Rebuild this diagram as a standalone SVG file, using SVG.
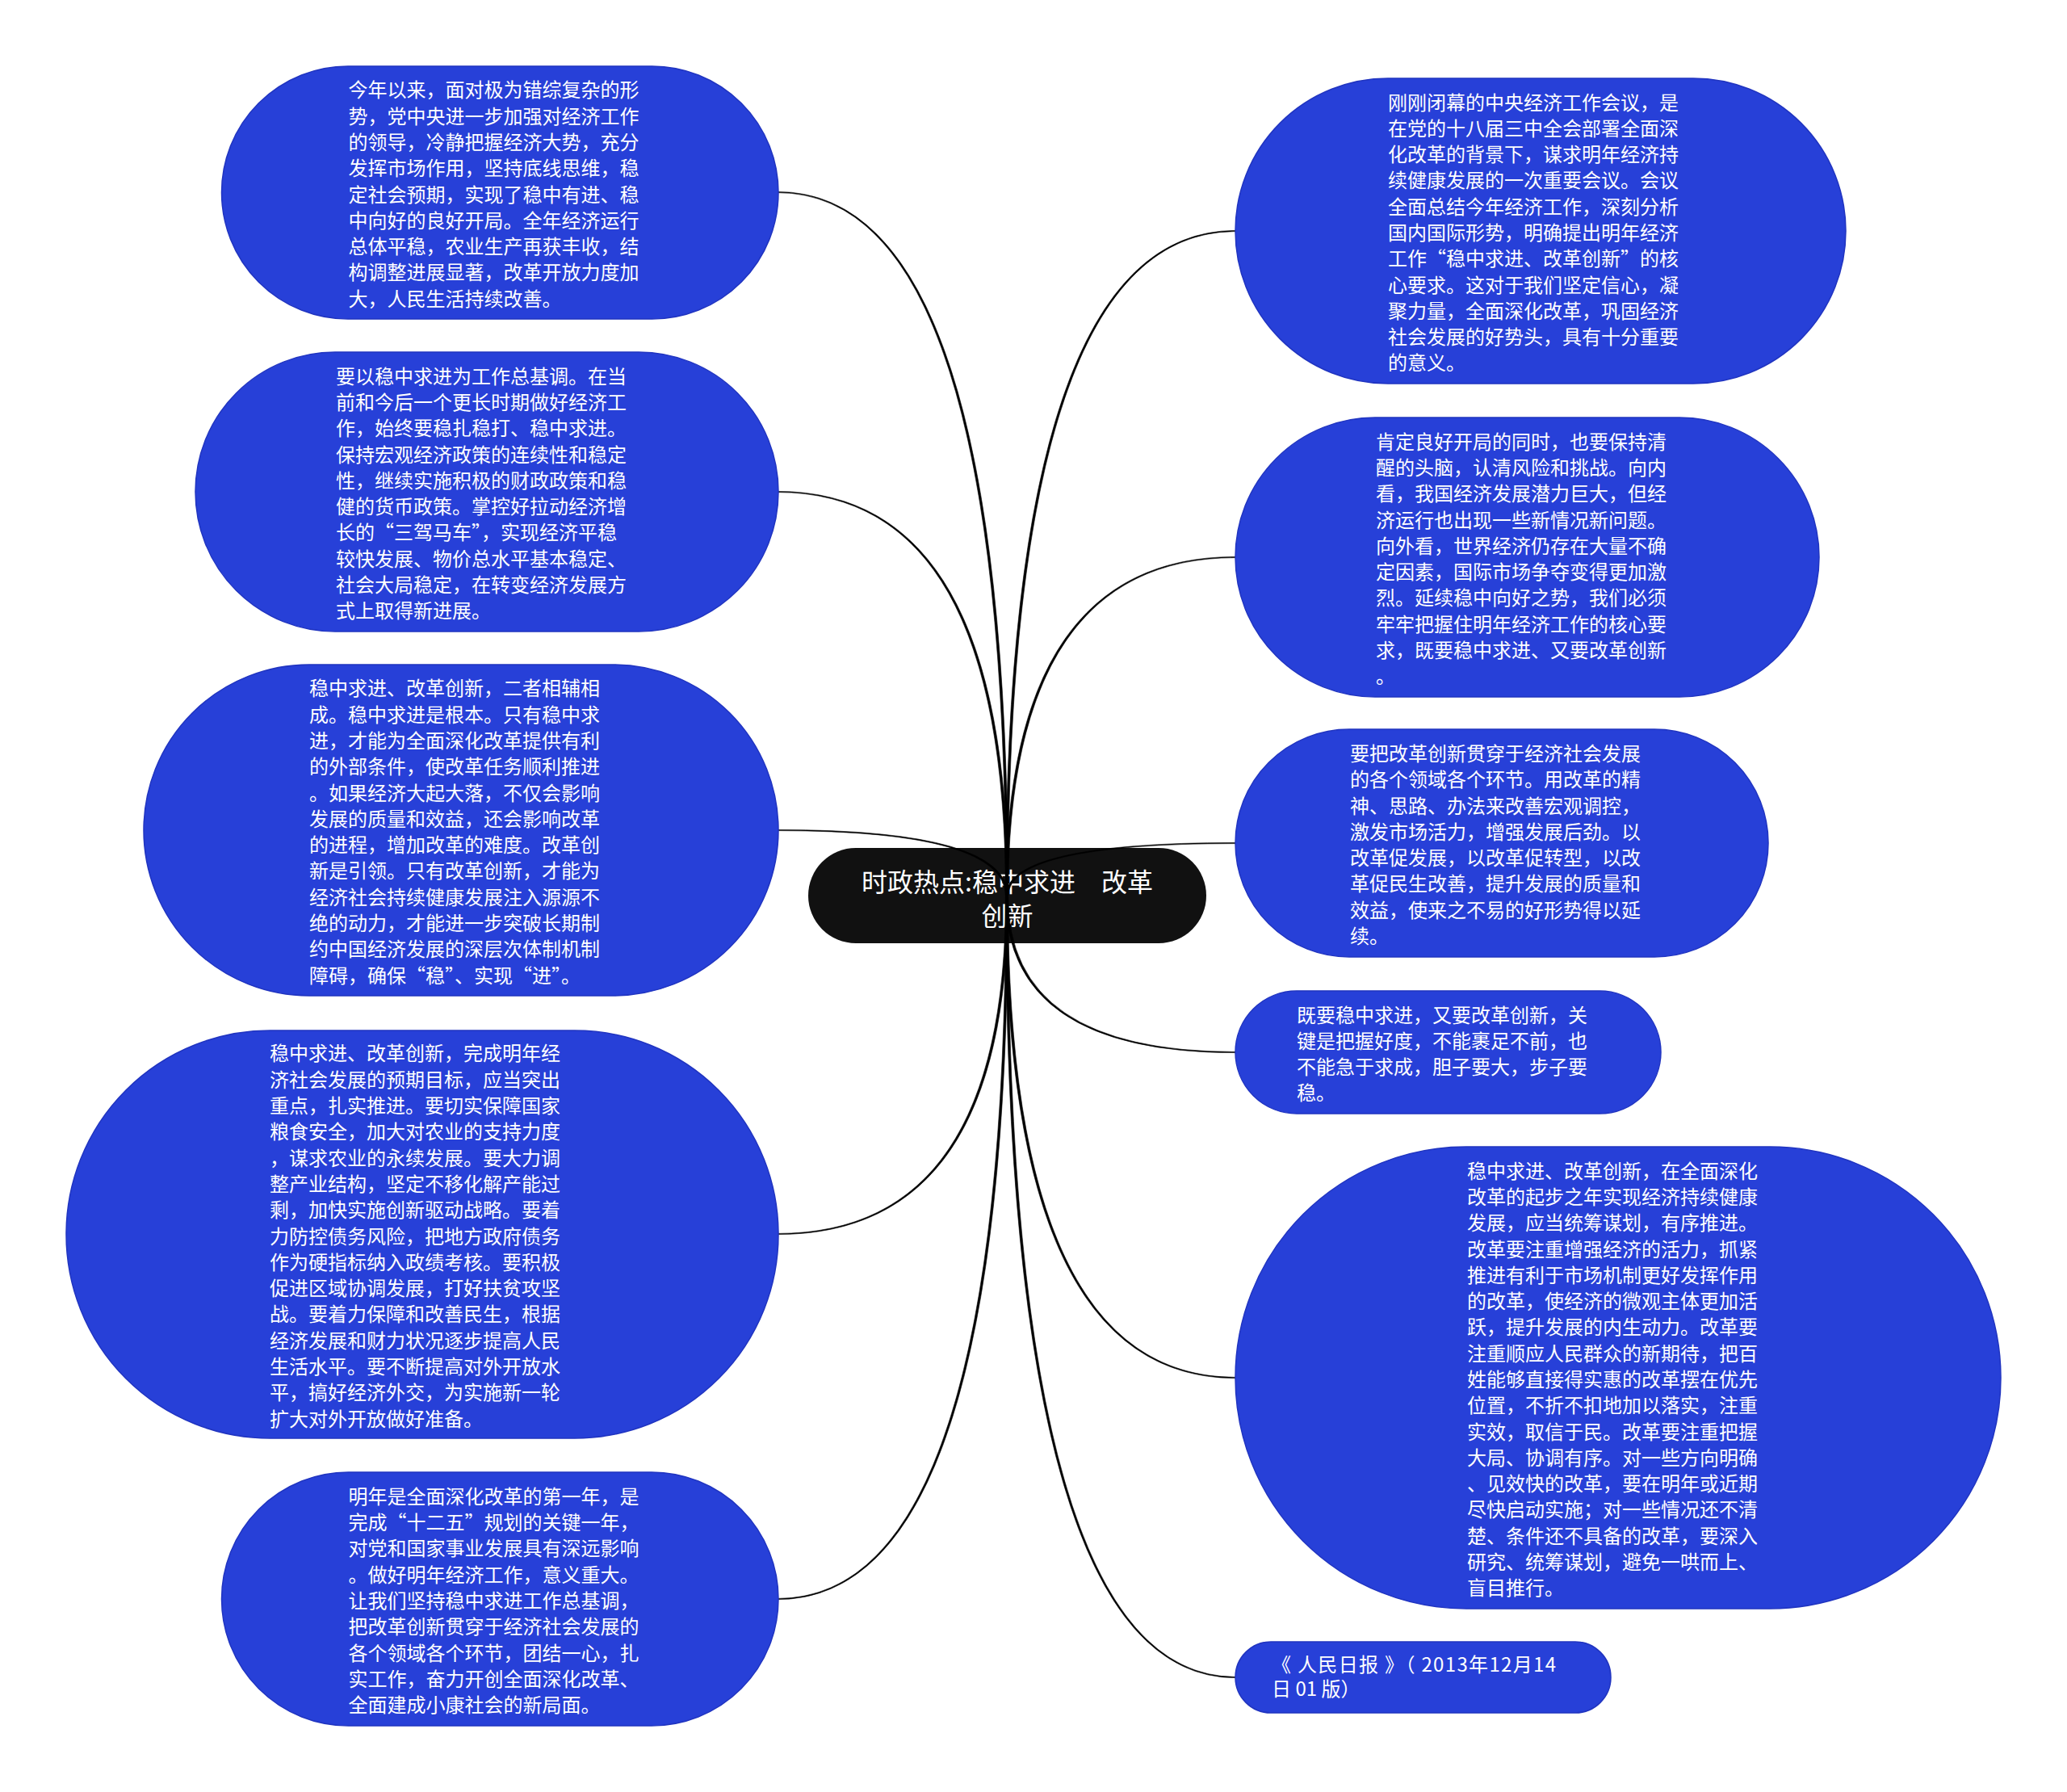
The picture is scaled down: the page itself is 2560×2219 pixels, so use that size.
<svg xmlns="http://www.w3.org/2000/svg" width="2560" height="2219" viewBox="0 0 2560 2219">
<style>
.bg{fill:#ffffff}
.node rect{fill:#2740d8;stroke:#2034c0;stroke-width:1.5}
.root rect{fill:#111111}
.t,.t tspan{font-family:"Noto Sans CJK SC","Noto Sans",sans-serif;font-size:24px;fill:#ffffff;dominant-baseline:central}
.rt,.rt tspan{font-family:"Noto Sans CJK SC","Noto Sans",sans-serif;font-size:32px;fill:#ffffff;dominant-baseline:central;text-anchor:middle}
.conn path{fill:#000000;stroke:#000000;stroke-width:0.6}
</style>
<rect class="bg" x="0" y="0" width="2560" height="2219"/>

<g id="root" class="root">
<rect x="1001" y="1050" width="493" height="118" rx="59"/>
<text class="rt"><tspan x="1247.5" y="1090">时政热点:稳中求进　改革</tspan><tspan x="1247.5" y="1132">创新</tspan></text>
</g>

<g id="connectors" class="conn">
<path d="M1248.5 1110 Q1248.5 237.4 963 237.4 L963 238.6 Q1245.5 238.6 1245.5 1110 Z"/>
<path d="M1248.5 1110 Q1248.5 608.4 963 608.4 L963 609.6 Q1245.5 609.6 1245.5 1110 Z"/>
<path d="M1248.5 1110 Q1248.5 1027.4 963 1027.4 L963 1028.6 Q1245.5 1028.6 1245.5 1110 Z"/>
<path d="M1248.5 1110 Q1248.5 1528.6 963 1528.6 L963 1527.4 Q1245.5 1527.4 1245.5 1110 Z"/>
<path d="M1248.5 1110 Q1248.5 1980.6 963 1980.6 L963 1979.4 Q1245.5 1979.4 1245.5 1110 Z"/>
<path d="M1248.5 1110 Q1248.5 286.6 1530 286.6 L1530 285.4 Q1245.5 285.4 1245.5 1110 Z"/>
<path d="M1248.5 1110 Q1248.5 690.6 1530 690.6 L1530 689.4 Q1245.5 689.4 1245.5 1110 Z"/>
<path d="M1248.5 1110 Q1248.5 1044.6 1530 1044.6 L1530 1043.4 Q1245.5 1043.4 1245.5 1110 Z"/>
<path d="M1248.5 1110 Q1248.5 1302.4 1530 1302.4 L1530 1303.6 Q1245.5 1303.6 1245.5 1110 Z"/>
<path d="M1248.5 1110 Q1248.5 1705.4 1530 1705.4 L1530 1706.6 Q1245.5 1706.6 1245.5 1110 Z"/>
<path d="M1248.5 1110 Q1248.5 2076.4 1530 2076.4 L1530 2077.6 Q1245.5 2077.6 1245.5 1110 Z"/>
</g>

<g id="n-left-1" class="node">
<rect x="274.5" y="82" width="689.5" height="313" rx="156.5"/>
<text class="t"><tspan x="431.6" y="109.3">今年以来，面对极为错综复杂的形</tspan><tspan x="431.6" dy="32.3">势，党中央进一步加强对经济工作</tspan><tspan x="431.6" dy="32.3">的领导，冷静把握经济大势，充分</tspan><tspan x="431.6" dy="32.3">发挥市场作用，坚持底线思维，稳</tspan><tspan x="431.6" dy="32.3">定社会预期，实现了稳中有进、稳</tspan><tspan x="431.6" dy="32.3">中向好的良好开局。全年经济运行</tspan><tspan x="431.6" dy="32.3">总体平稳，农业生产再获丰收，结</tspan><tspan x="431.6" dy="32.3">构调整进展显著，改革开放力度加</tspan><tspan x="431.6" dy="32.3">大，人民生活持续改善。</tspan></text>
</g>

<g id="n-left-2" class="node">
<rect x="242" y="436" width="722" height="346" rx="173"/>
<text class="t"><tspan x="416" y="463.65">要以稳中求进为工作总基调。在当</tspan><tspan x="416" dy="32.3">前和今后一个更长时期做好经济工</tspan><tspan x="416" dy="32.3">作，始终要稳扎稳打、稳中求进。</tspan><tspan x="416" dy="32.3">保持宏观经济政策的连续性和稳定</tspan><tspan x="416" dy="32.3">性，继续实施积极的财政政策和稳</tspan><tspan x="416" dy="32.3">健的货币政策。掌控好拉动经济增</tspan><tspan x="416" dy="32.3">长的“三驾马车”，实现经济平稳</tspan><tspan x="416" dy="32.3">较快发展、物价总水平基本稳定、</tspan><tspan x="416" dy="32.3">社会大局稳定，在转变经济发展方</tspan><tspan x="416" dy="32.3">式上取得新进展。</tspan></text>
</g>

<g id="n-left-3" class="node">
<rect x="178" y="823" width="786" height="410" rx="205"/>
<text class="t"><tspan x="383" y="850.35">稳中求进、改革创新，二者相辅相</tspan><tspan x="383" dy="32.3">成。稳中求进是根本。只有稳中求</tspan><tspan x="383" dy="32.3">进，才能为全面深化改革提供有利</tspan><tspan x="383" dy="32.3">的外部条件，使改革任务顺利推进</tspan><tspan x="383" dy="32.3">。如果经济大起大落，不仅会影响</tspan><tspan x="383" dy="32.3">发展的质量和效益，还会影响改革</tspan><tspan x="383" dy="32.3">的进程，增加改革的难度。改革创</tspan><tspan x="383" dy="32.3">新是引领。只有改革创新，才能为</tspan><tspan x="383" dy="32.3">经济社会持续健康发展注入源源不</tspan><tspan x="383" dy="32.3">绝的动力，才能进一步突破长期制</tspan><tspan x="383" dy="32.3">约中国经济发展的深层次体制机制</tspan><tspan x="383" dy="32.3">障碍，确保“稳”、实现“进”。</tspan></text>
</g>

<g id="n-left-4" class="node">
<rect x="82" y="1276" width="882" height="505" rx="252.5"/>
<text class="t"><tspan x="334" y="1302.4">稳中求进、改革创新，完成明年经</tspan><tspan x="334" dy="32.3">济社会发展的预期目标，应当突出</tspan><tspan x="334" dy="32.3">重点，扎实推进。要切实保障国家</tspan><tspan x="334" dy="32.3">粮食安全，加大对农业的支持力度</tspan><tspan x="334" dy="32.3">，谋求农业的永续发展。要大力调</tspan><tspan x="334" dy="32.3">整产业结构，坚定不移化解产能过</tspan><tspan x="334" dy="32.3">剩，加快实施创新驱动战略。要着</tspan><tspan x="334" dy="32.3">力防控债务风险，把地方政府债务</tspan><tspan x="334" dy="32.3">作为硬指标纳入政绩考核。要积极</tspan><tspan x="334" dy="32.3">促进区域协调发展，打好扶贫攻坚</tspan><tspan x="334" dy="32.3">战。要着力保障和改善民生，根据</tspan><tspan x="334" dy="32.3">经济发展和财力状况逐步提高人民</tspan><tspan x="334" dy="32.3">生活水平。要不断提高对外开放水</tspan><tspan x="334" dy="32.3">平，搞好经济外交，为实施新一轮</tspan><tspan x="334" dy="32.3">扩大对外开放做好准备。</tspan></text>
</g>

<g id="n-left-5" class="node">
<rect x="274.5" y="1823" width="689.5" height="314" rx="157"/>
<text class="t"><tspan x="431.6" y="1850.8">明年是全面深化改革的第一年，是</tspan><tspan x="431.6" dy="32.3">完成“十二五”规划的关键一年，</tspan><tspan x="431.6" dy="32.3">对党和国家事业发展具有深远影响</tspan><tspan x="431.6" dy="32.3">。做好明年经济工作，意义重大。</tspan><tspan x="431.6" dy="32.3">让我们坚持稳中求进工作总基调，</tspan><tspan x="431.6" dy="32.3">把改革创新贯穿于经济社会发展的</tspan><tspan x="431.6" dy="32.3">各个领域各个环节，团结一心，扎</tspan><tspan x="431.6" dy="32.3">实工作，奋力开创全面深化改革、</tspan><tspan x="431.6" dy="32.3">全面建成小康社会的新局面。</tspan></text>
</g>

<g id="n-right-1" class="node">
<rect x="1530" y="97" width="756" height="378" rx="189"/>
<text class="t"><tspan x="1719" y="124.5">刚刚闭幕的中央经济工作会议，是</tspan><tspan x="1719" dy="32.3">在党的十八届三中全会部署全面深</tspan><tspan x="1719" dy="32.3">化改革的背景下，谋求明年经济持</tspan><tspan x="1719" dy="32.3">续健康发展的一次重要会议。会议</tspan><tspan x="1719" dy="32.3">全面总结今年经济工作，深刻分析</tspan><tspan x="1719" dy="32.3">国内国际形势，明确提出明年经济</tspan><tspan x="1719" dy="32.3">工作“稳中求进、改革创新”的核</tspan><tspan x="1719" dy="32.3">心要求。这对于我们坚定信心，凝</tspan><tspan x="1719" dy="32.3">聚力量，全面深化改革，巩固经济</tspan><tspan x="1719" dy="32.3">社会发展的好势头，具有十分重要</tspan><tspan x="1719" dy="32.3">的意义。</tspan></text>
</g>

<g id="n-right-2" class="node">
<rect x="1530" y="517" width="723" height="346" rx="173"/>
<text class="t"><tspan x="1704" y="544.65">肯定良好开局的同时，也要保持清</tspan><tspan x="1704" dy="32.3">醒的头脑，认清风险和挑战。向内</tspan><tspan x="1704" dy="32.3">看，我国经济发展潜力巨大，但经</tspan><tspan x="1704" dy="32.3">济运行也出现一些新情况新问题。</tspan><tspan x="1704" dy="32.3">向外看，世界经济仍存在大量不确</tspan><tspan x="1704" dy="32.3">定因素，国际市场争夺变得更加激</tspan><tspan x="1704" dy="32.3">烈。延续稳中向好之势，我们必须</tspan><tspan x="1704" dy="32.3">牢牢把握住明年经济工作的核心要</tspan><tspan x="1704" dy="32.3">求，既要稳中求进、又要改革创新</tspan><tspan x="1704" dy="32.3">。</tspan></text>
</g>

<g id="n-right-3" class="node">
<rect x="1530" y="903" width="660" height="282" rx="141"/>
<text class="t"><tspan x="1672" y="930.95">要把改革创新贯穿于经济社会发展</tspan><tspan x="1672" dy="32.3">的各个领域各个环节。用改革的精</tspan><tspan x="1672" dy="32.3">神、思路、办法来改善宏观调控，</tspan><tspan x="1672" dy="32.3">激发市场活力，增强发展后劲。以</tspan><tspan x="1672" dy="32.3">改革促发展，以改革促转型，以改</tspan><tspan x="1672" dy="32.3">革促民生改善，提升发展的质量和</tspan><tspan x="1672" dy="32.3">效益，使来之不易的好形势得以延</tspan><tspan x="1672" dy="32.3">续。</tspan></text>
</g>

<g id="n-right-4" class="node">
<rect x="1530" y="1227" width="527" height="152" rx="76"/>
<text class="t"><tspan x="1606" y="1254.55">既要稳中求进，又要改革创新，关</tspan><tspan x="1606" dy="32.3">键是把握好度，不能裹足不前，也</tspan><tspan x="1606" dy="32.3">不能急于求成，胆子要大，步子要</tspan><tspan x="1606" dy="32.3">稳。</tspan></text>
</g>

<g id="n-right-5" class="node">
<rect x="1530" y="1420" width="948" height="572" rx="286"/>
<text class="t"><tspan x="1817" y="1447.6">稳中求进、改革创新，在全面深化</tspan><tspan x="1817" dy="32.3">改革的起步之年实现经济持续健康</tspan><tspan x="1817" dy="32.3">发展，应当统筹谋划，有序推进。</tspan><tspan x="1817" dy="32.3">改革要注重增强经济的活力，抓紧</tspan><tspan x="1817" dy="32.3">推进有利于市场机制更好发挥作用</tspan><tspan x="1817" dy="32.3">的改革，使经济的微观主体更加活</tspan><tspan x="1817" dy="32.3">跃，提升发展的内生动力。改革要</tspan><tspan x="1817" dy="32.3">注重顺应人民群众的新期待，把百</tspan><tspan x="1817" dy="32.3">姓能够直接得实惠的改革摆在优先</tspan><tspan x="1817" dy="32.3">位置，不折不扣地加以落实，注重</tspan><tspan x="1817" dy="32.3">实效，取信于民。改革要注重把握</tspan><tspan x="1817" dy="32.3">大局、协调有序。对一些方向明确</tspan><tspan x="1817" dy="32.3">、见效快的改革，要在明年或近期</tspan><tspan x="1817" dy="32.3">尽快启动实施；对一些情况还不清</tspan><tspan x="1817" dy="32.3">楚、条件还不具备的改革，要深入</tspan><tspan x="1817" dy="32.3">研究、统筹谋划，避免一哄而上、</tspan><tspan x="1817" dy="32.3">盲目推行。</tspan></text>
</g>

<g id="n-right-6" class="node">
<rect x="1530" y="2033" width="465" height="88" rx="44"/>
<text class="t" xml:space="preserve"><tspan x="1575" y="2059" textLength="352" lengthAdjust="spacing">《 人民日报 》（ 2013年12月14</tspan><tspan x="1575" y="2089">日 01 版）</tspan></text>
</g>
</svg>
